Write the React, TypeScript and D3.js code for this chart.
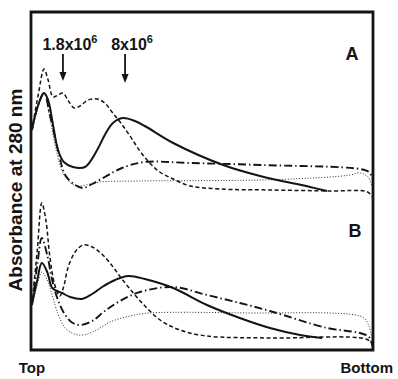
import React from 'react';
import * as d3 from 'd3';

// position along the gradient (Top -> Bottom) and absorbance
const posMax = 38;

const dashedA: [number, number][] = [
  [0.1, 0.7], [0.8, 1.05], [1.45, 1.31], [1.9, 1.2], [2.45, 1.03], [3.0, 1.05], [3.55, 1.07],
  [4.1, 1.0], [4.8, 0.92], [5.45, 0.94], [6.35, 1.0], [7.35, 1.01], [8.2, 0.97], [9.0, 0.88],
  [9.9, 0.78], [11.0, 0.64], [12.1, 0.49], [13.2, 0.37], [14.3, 0.28], [15.8, 0.21],
  [17.7, 0.14], [21.0, 0.11], [26.6, 0.1], [33.2, 0.09], [37.4, 0.08], [38.0, 0.02],
];
const solidA: [number, number][] = [
  [0.1, 0.7], [0.8, 0.95], [1.45, 1.07], [1.9, 1.0], [2.45, 0.75], [3.0, 0.5], [3.65, 0.38],
  [4.65, 0.33], [6.0, 0.33], [7.35, 0.5], [8.2, 0.65], [9.1, 0.77], [10.2, 0.82], [11.55, 0.79],
  [12.65, 0.74], [15.8, 0.57], [21.35, 0.35], [25.45, 0.24], [31.0, 0.13], [32.9, 0.09],
];
const dashDotA: [number, number][] = [
  [0.1, 0.7], [0.8, 0.95], [1.45, 1.07], [2.1, 0.85], [3.0, 0.5], [3.8, 0.25], [4.9, 0.15],
  [5.8, 0.12], [6.8, 0.16], [8.2, 0.23], [10.1, 0.32], [12.65, 0.38], [17.7, 0.37],
  [25.45, 0.35], [36.55, 0.31], [37.55, 0.28], [38.0, 0.2],
];
const dottedA: [number, number][] = [
  [0.1, 0.7], [0.8, 0.95], [1.45, 1.07], [2.1, 0.82], [2.8, 0.5], [3.55, 0.27], [4.55, 0.16],
  [5.45, 0.14], [6.55, 0.16], [7.65, 0.18], [12.1, 0.19], [25.45, 0.2], [33.2, 0.23],
  [35.45, 0.25], [36.55, 0.27], [37.45, 0.23], [38.0, 0.1],
];

const dashedB: [number, number][] = [
  [0.1, 0.45], [0.7, 1.0], [1.2, 1.47], [1.65, 1.3], [2.1, 0.93], [2.65, 0.65], [3.2, 0.54],
  [3.65, 0.64], [4.1, 0.82], [4.9, 0.98], [5.8, 1.05], [6.8, 1.03], [8.2, 0.93], [10.45, 0.67],
  [12.35, 0.47], [14.35, 0.3], [16.55, 0.2], [19.55, 0.14], [26.55, 0.12], [37.2, 0.11],
  [37.9, 0.06], [38.0, 0.0],
];
const solidB: [number, number][] = [
  [0.1, 0.45], [0.7, 0.7], [1.2, 0.87], [1.8, 0.78], [2.35, 0.62], [2.9, 0.59], [3.45, 0.57],
  [4.35, 0.53], [5.65, 0.51], [6.8, 0.56], [7.9, 0.63], [9.35, 0.7], [10.8, 0.74], [12.65, 0.71],
  [15.8, 0.62], [19.55, 0.45], [23.2, 0.32], [26.55, 0.22], [29.9, 0.15], [32.35, 0.12],
];
const dashDotB: [number, number][] = [
  [0.1, 0.45], [0.7, 0.85], [1.2, 1.12], [1.8, 0.95], [2.35, 0.7], [3.0, 0.5], [3.8, 0.35],
  [4.65, 0.27], [5.55, 0.25], [6.8, 0.29], [8.2, 0.39], [9.9, 0.49], [12.1, 0.58], [15.8, 0.63],
  [19.55, 0.55], [23.2, 0.47], [26.55, 0.39], [32.9, 0.22], [36.55, 0.17], [37.55, 0.13],
  [38.0, 0.02],
];
const dottedB: [number, number][] = [
  [0.1, 0.45], [0.7, 0.65], [1.2, 0.78], [1.8, 0.7], [2.35, 0.55], [3.0, 0.36], [3.8, 0.22],
  [4.8, 0.16], [5.8, 0.15], [7.1, 0.19], [8.8, 0.28], [11.0, 0.34], [13.2, 0.37], [25.45, 0.37],
  [33.2, 0.37], [36.0, 0.35], [37.0, 0.32], [37.55, 0.24], [37.9, 0.1], [38.0, 0.0],
];

// molecular weight markers (arrows) in panel A
const markerLabels = ['1.8x10', '8x10'];
const markerExp = '6';
const markerPos = [3.55, 10.45];

const panelLabels = ['A', 'B'];
const yTitle = 'Absorbance at 280 nm';
const xEnds = ['Top', 'Bottom'];

const W = 398;
const H = 379;
const frame = { left: 31, right: 373, top: 12, bottom: 350 };
const ink = '#141414';
const font = '"Liberation Sans", Arial, Helvetica, sans-serif';

const styles = {
  solid: { width: 2, dash: undefined as string | undefined },
  dashed: { width: 1.5, dash: '4 2.6' },
  dashDot: { width: 1.9, dash: '8 3 1.4 3' },
  dotted: { width: 0.9, dash: '1 1.8' },
};

export default function App() {
  const x = d3.scaleLinear().domain([0, posMax]).range([frame.left, frame.right]);
  const yA = d3.scaleLinear().domain([0, 1.6]).range([200, 40]);
  const yB = d3.scaleLinear().domain([0, 1.6]).range([frame.bottom, 190]);

  const lineFor = (y: d3.ScaleLinear<number, number>) =>
    d3.line<[number, number]>()
      .x(d => x(d[0]))
      .y(d => y(d[1]))
      .curve(d3.curveCatmullRom.alpha(0.5));

  const lA = lineFor(yA);
  const lB = lineFor(yB);

  const series = [
    { d: lA(dottedA), s: styles.dotted },
    { d: lA(dashDotA), s: styles.dashDot },
    { d: lA(dashedA), s: styles.dashed },
    { d: lA(solidA), s: styles.solid },
    { d: lB(dottedB), s: styles.dotted },
    { d: lB(dashDotB), s: styles.dashDot },
    { d: lB(dashedB), s: styles.dashed },
    { d: lB(solidB), s: styles.solid },
  ];

  return (
    <svg width={W} height={H} style={{ position: 'absolute', left: 0, top: 0, background: '#fff' }}
      fontFamily={font}>
      <rect width={W} height={H} fill="#fff" />

      {series.map((sr, i) => (
        <path key={i} d={sr.d ?? ''} fill="none" stroke={ink} strokeWidth={sr.s.width}
          strokeDasharray={sr.s.dash} strokeLinecap="butt" strokeLinejoin="round" />
      ))}

      {/* frame */}
      <path
        d={`M${frame.left},${frame.top}H${frame.right}V${frame.bottom}H${frame.left}Z`}
        fill="none" stroke={ink} strokeWidth={2.8} />

      {/* marker arrows */}
      {markerPos.map((p, i) => (
        <g key={i} transform={`translate(${x(p)},0)`}>
          <text x={7} y={50} textAnchor="middle" fontSize={16} fontWeight="bold" fill={ink}>
            {markerLabels[i]}
            <tspan fontSize={11} dy={-7}>{markerExp}</tspan>
          </text>
          <line x1={0} x2={0} y1={54} y2={i === 0 ? 73 : 75} stroke={ink} strokeWidth={1.8} />
          <path d={`M-3.5,${i === 0 ? 72 : 74}L3.5,${i === 0 ? 72 : 74}L0,${i === 0 ? 81 : 83}Z`} fill={ink} />
        </g>
      ))}

      {/* panel letters */}
      <text x={frame.right - 21} y={60} textAnchor="middle" fontSize={18} fontWeight="bold" fill={ink}>
        {panelLabels[0]}
      </text>
      <text x={frame.right - 18} y={237} textAnchor="middle" fontSize={18} fontWeight="bold" fill={ink}>
        {panelLabels[1]}
      </text>

      {/* axis title */}
      <text transform={`translate(22,190) rotate(-90)`} textAnchor="middle" fontSize={19}
        fontWeight="bold" fill={ink}>
        {yTitle}
      </text>

      {/* gradient ends */}
      <text x={x(0) + 1} y={373} textAnchor="middle" fontSize={15} fontWeight="bold" fill={ink}>
        {xEnds[0]}
      </text>
      <text x={x(posMax) + 20} y={373} textAnchor="end" fontSize={15} fontWeight="bold" fill={ink}>
        {xEnds[1]}
      </text>
    </svg>
  );
}
